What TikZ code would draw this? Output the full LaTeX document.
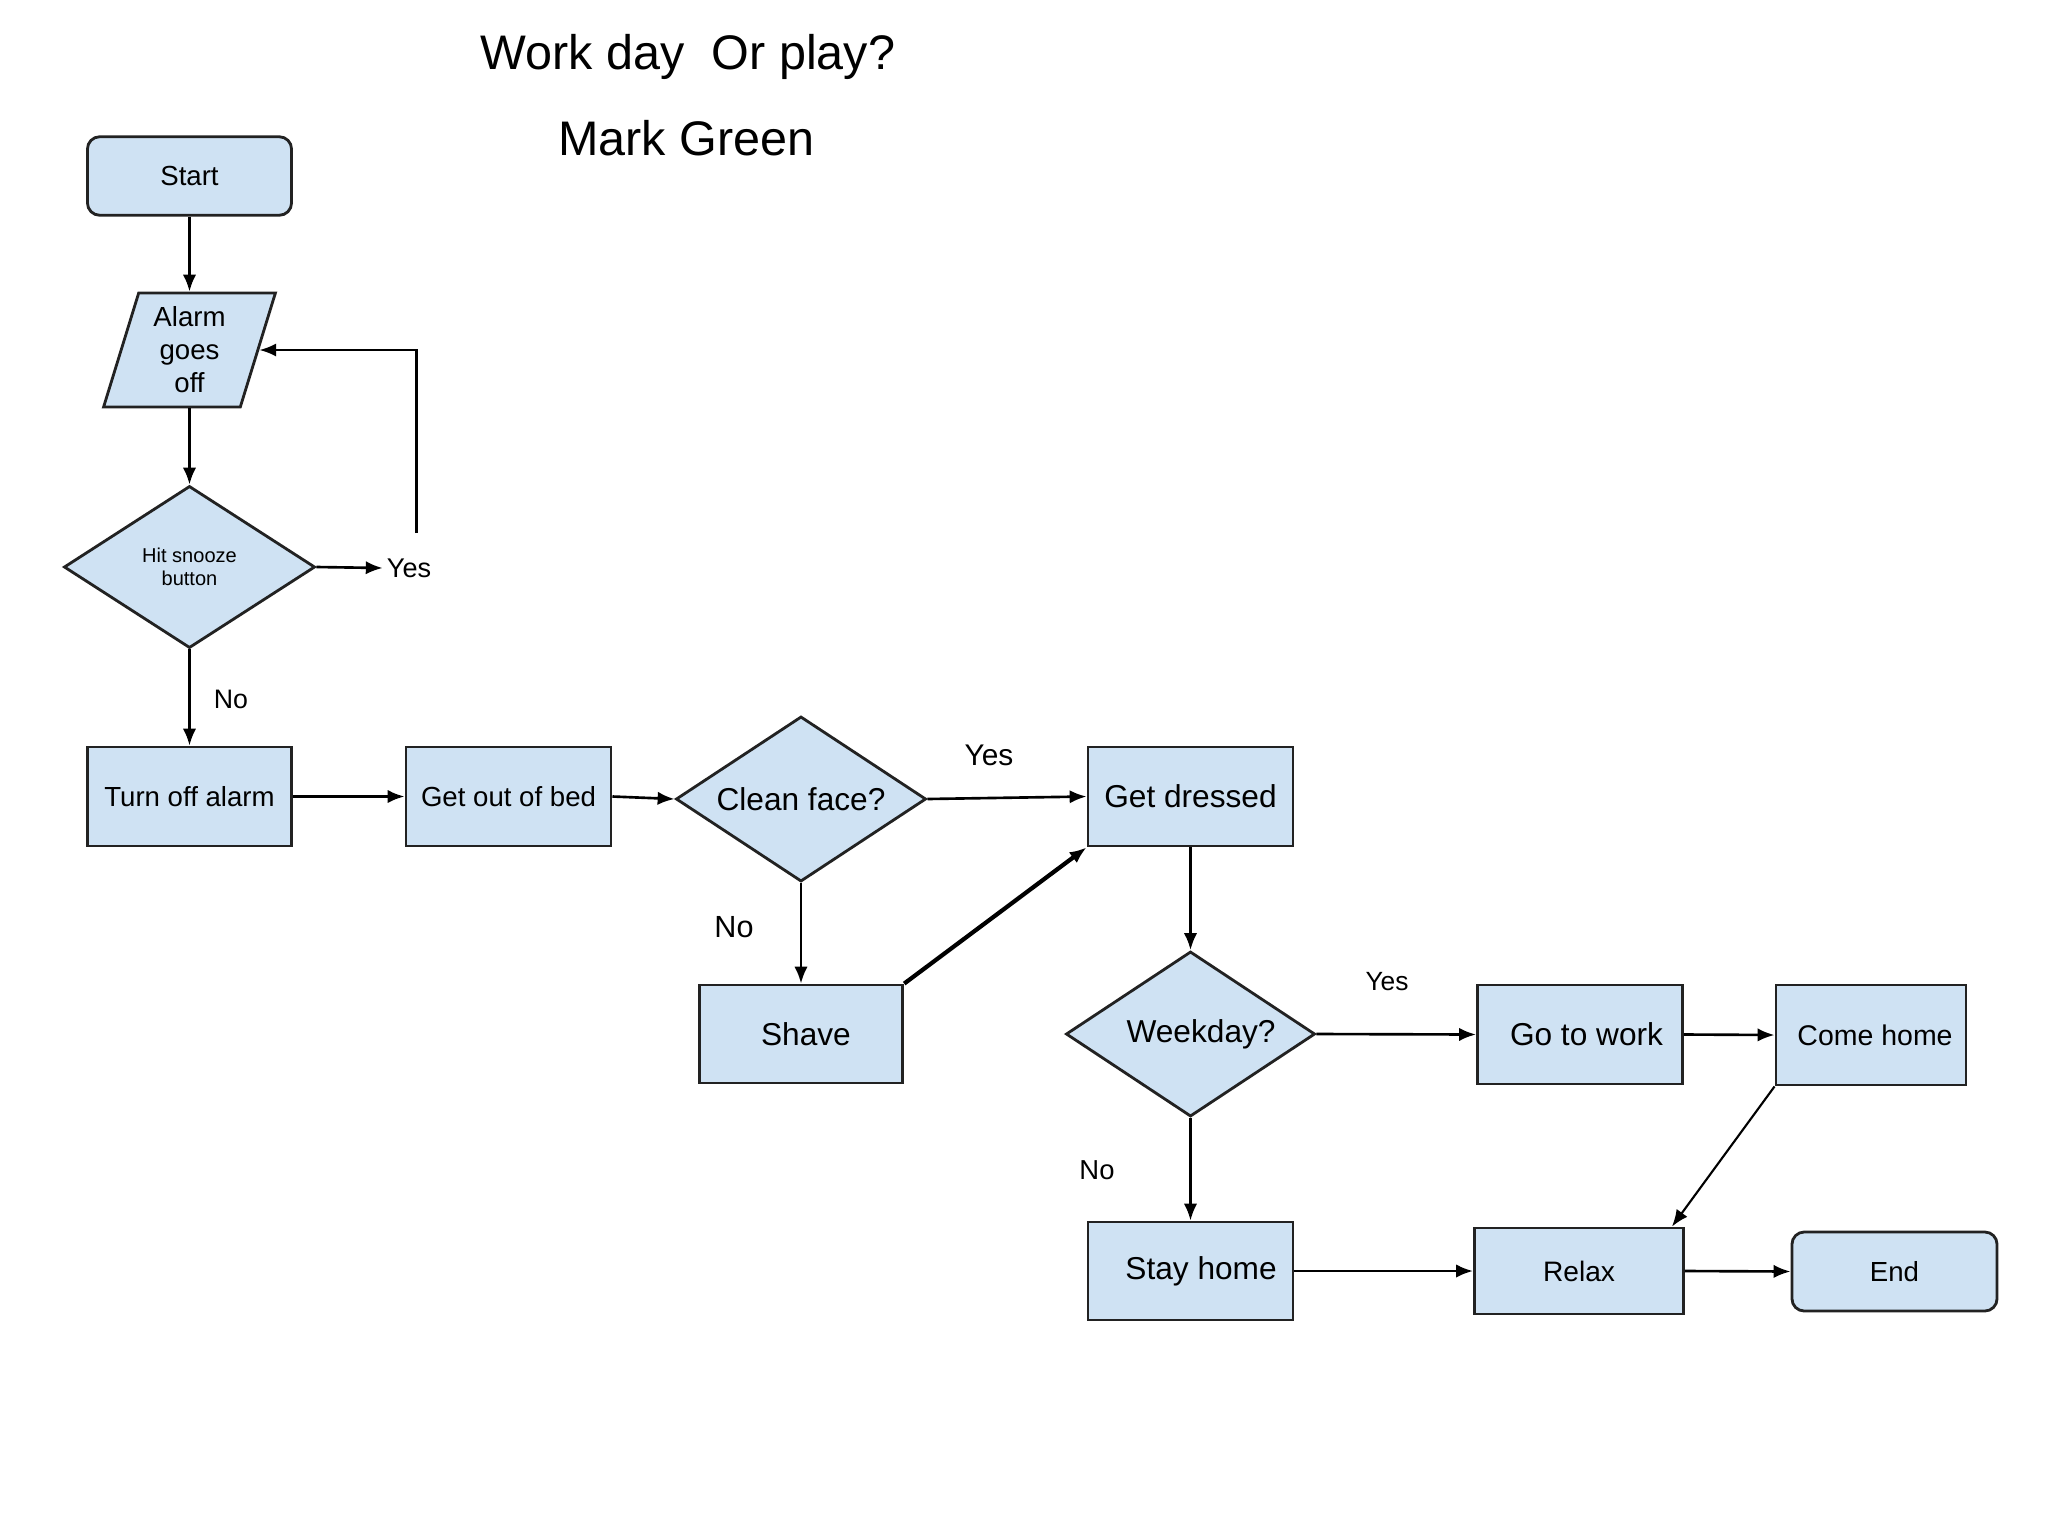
\documentclass[tikz,border=0pt]{standalone}
\usepackage{fontspec}
\setmainfont{Liberation Sans}
\usetikzlibrary{shapes.geometric,arrows.meta,calc}
\definecolor{boxfill}{HTML}{CFE2F3}
\definecolor{edgec}{HTML}{222222}
\begin{document}
\begin{tikzpicture}[x=0.01cm,y=-0.01cm,
  base/.style={draw=edgec, fill=boxfill, line width=0.8pt, text=black, inner sep=0pt, align=center},
  proc/.style={base, rectangle},
  term/.style={base, rectangle, rounded corners=3.5pt},
  dec/.style={base, diamond, aspect=1.52},
  io/.style={base, trapezium, trapezium left angle=73.9, trapezium right angle=106.1, trapezium stretches=true},
  conn/.style={-{Latex[length=4.8pt,width=3.8pt]}, line width=0.75pt, draw=black},
  fg/.style={font=\fontsize{7.85}{9.4}\selectfont},
  fn/.style={font=\fontsize{9}{10.8}\selectfont},
  lbl/.style={inner sep=1pt, text=black}
]
\useasboundingbox (0,0) rectangle (2048,1536);
\fill[white] (0,0) rectangle (2048,1536);

% titles
\node[lbl, font=\fontsize{13.8}{16}\selectfont] (title) at (688,57) {Work day\ \ Or play?};
\node[lbl, font=\fontsize{13.8}{16}\selectfont] (author) at (686.5,138) {Mark Green};

% left column
\node[term, fg, minimum width=2.04cm, minimum height=0.785cm] (start) at (189.5,176) {Start};
\node[io, fg, minimum width=1.72cm, minimum height=1.14cm] (alarm) at (189.5,350) {Alarm\\goes\\off};
\node[dec, font=\fontsize{5.7}{6.7}\selectfont, minimum width=2.51cm, minimum height=1.62cm] (snooze) at (189.5,567) {Hit snooze\\button};
\node[lbl, font=\fontsize{7.7}{9}\selectfont] (yes1) at (409,568) {Yes};
\node[lbl, font=\fontsize{7.6}{9}\selectfont] (no1) at (231,699) {No};
\coordinate (loopstart) at (416.6,533);

% middle row
\node[proc, fg, minimum width=2.04cm, minimum height=0.99cm] (toff) at (189.5,796.5) {Turn off alarm};
\node[proc, fg, minimum width=2.05cm, minimum height=0.99cm] (gob) at (508.5,796.5) {Get out of bed};
\node[dec, fn, minimum width=2.50cm, minimum height=1.65cm] (clean) at (801,799) {Clean face?};
\node[proc, fn, minimum width=2.05cm, minimum height=0.99cm] (gd) at (1190.5,796.5) {Get dressed};
\node[lbl, font=\fontsize{8.5}{10}\selectfont] (yes2) at (989,755) {Yes};
\node[lbl, font=\fontsize{8.7}{10}\selectfont] (no2) at (734,927) {No};
\node[proc, fn, minimum width=2.035cm, minimum height=0.98cm] (shave) at (801,1034) {\hspace*{2.8pt}Shave};

% right part
\node[dec, fn, minimum width=2.49cm, minimum height=1.65cm] (week) at (1190.5,1034) {\hspace*{6pt}Weekday?};
\node[lbl, font=\fontsize{7.5}{9}\selectfont] (yes3) at (1387,982) {Yes};
\node[lbl, font=\fontsize{7.8}{9}\selectfont] (no3) at (1097,1170) {No};
\node[proc, fn, minimum width=2.05cm, minimum height=0.99cm] (work) at (1580,1034.5) {\hspace*{3.7pt}Go to work};
\node[proc, font=\fontsize{8.1}{9.6}\selectfont, minimum width=1.90cm, minimum height=1.00cm] (come) at (1871,1035) {\hspace*{2.3pt}Come home};
\node[proc, fn, minimum width=2.05cm, minimum height=0.98cm] (stay) at (1190.5,1271) {\hspace*{6pt}Stay home};
\node[proc, font=\fontsize{8}{9.6}\selectfont, minimum width=2.09cm, minimum height=0.86cm] (relax) at (1579,1271) {Relax};
\node[term, fg, minimum width=2.05cm, minimum height=0.79cm] (end) at (1894.5,1271.5) {End};

% connectors
\draw[conn] (start.south) -- (start.south |- alarm.north);
\draw[conn] (snooze.north |- alarm.south) -- (snooze.north);
\draw[conn] (snooze.east) -- (yes1.west);
\draw[conn] (loopstart) |- (alarm.east);
\draw[conn] (snooze.south) -- (toff.north);
\draw[conn] (toff.east) -- (gob.west);
\draw[conn] (gob.east) -- (clean.west);
\draw[conn] (clean.east) -- (gd.west);
\draw[conn] (clean.south) -- (shave.north);
\draw[conn, line width=1.2pt] (shave.north east) -- (gd.south west);
\draw[conn] (gd.south) -- (week.north);
\draw[conn] (week.east) -- (work.west);
\draw[conn] (work.east) -- (come.west);
\draw[conn] (week.south) -- (stay.north);
\draw[conn] (stay.east) -- (relax.west);
\draw[conn, line width=0.6pt] (come.south west) -- ($(relax.north east)+(-13,0)$);
\draw[conn] (relax.east) -- (end.west);
\end{tikzpicture}
\end{document}
